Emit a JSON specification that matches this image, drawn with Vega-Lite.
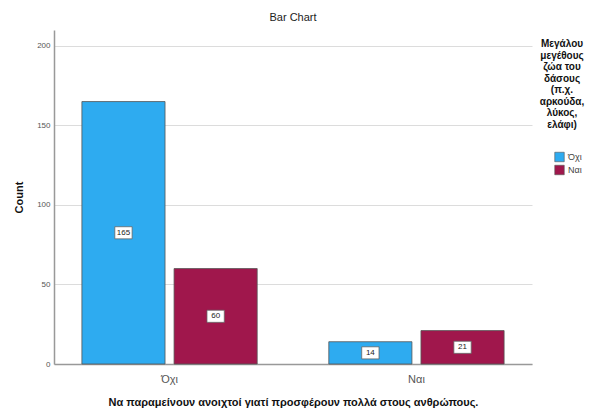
{
  "$schema": "https://vega.github.io/schema/vega-lite/v6.json",
  "width": 478,
  "height": 334,
  "autosize": {"type": "none"},
  "padding": {"left": 54, "top": 30, "right": 60, "bottom": 50},
  "background": "white",
  "title": {"text": "Bar Chart", "font": "Liberation Sans", "fontSize": 11, "fontWeight": "normal", "color": "#222", "offset": 7},
  "config": {
    "view": {"stroke": null},
    "font": "Liberation Sans"
  },
  "data": {
    "values": [
      {"keep": "Όχι", "animal": "Όχι", "count": 165},
      {"keep": "Όχι", "animal": "Ναι", "count": 60},
      {"keep": "Ναι", "animal": "Όχι", "count": 14},
      {"keep": "Ναι", "animal": "Ναι", "count": 21}
    ]
  },
  "encoding": {
    "x": {
      "field": "keep", "type": "nominal", "sort": ["Όχι", "Ναι"],
      "scale": {"paddingInner": 0.29, "paddingOuter": 0.113},
      "axis": {
        "title": "Να παραμείνουν ανοιχτοί γιατί προσφέρουν πολλά στους ανθρώπους.",
        "titleFont": "Liberation Sans", "titleFontSize": 11, "titleFontWeight": "bold", "titleColor": "#111",
        "titlePadding": 12,
        "labelAngle": 0, "labelFontSize": 11, "labelColor": "#555", "labelPadding": 9,
        "ticks": false, "domainColor": "#999", "domainWidth": 1.5
      }
    },
    "xOffset": {"field": "animal", "type": "nominal", "sort": ["Όχι", "Ναι"], "scale": {"paddingInner": 0.098, "paddingOuter": 0}}
  },
  "layer": [
    {
      "mark": {"type": "bar", "stroke": "#555", "strokeWidth": 0.8},
      "encoding": {
        "y": {
          "field": "count", "type": "quantitative",
          "scale": {"domain": [0, 210], "nice": false},
          "axis": {
            "title": "Count", "titleFont": "Liberation Sans", "titleFontSize": 11, "titleFontWeight": "bold", "titleColor": "#111",
            "titlePadding": 12,
            "values": [0, 50, 100, 150, 200],
            "labelFontSize": 8, "labelColor": "#555", "labelPadding": 4,
            "ticks": false, "domainColor": "#999", "domainWidth": 1.5,
            "grid": true, "gridColor": "#dcdcdc"
          }
        },
        "color": {
          "field": "animal", "type": "nominal", "sort": ["Όχι", "Ναι"],
          "scale": {"domain": ["Όχι", "Ναι"], "range": ["#2EABF0", "#A0174C"]},
          "legend": {
            "title": ["Μεγάλου", "μεγέθους", "ζώα του", "δάσους", "(π.χ.", "αρκούδα,", "λύκος,", "ελάφι)"],
            "orient": "none", "legendX": 486, "legendY": 9,
            "titleFont": "Liberation Sans", "titleFontSize": 10, "titleFontWeight": "bold", "titleColor": "#111",
            "titleAlign": "center", "titleAnchor": "middle", "titleLineHeight": 11.5, "titlePadding": 22,
            "symbolType": "square", "symbolSize": 90, "symbolStrokeColor": "#555", "symbolStrokeWidth": 0.6,
            "symbolOffset": 12,
            "labelFontSize": 9, "labelColor": "#444", "labelOffset": 3, "rowPadding": 0
          }
        }
      }
    },
    {
      "mark": {"type": "point", "shape": "M-1,-0.7L1,-0.7L1,0.7L-1,0.7Z", "filled": true, "fill": "white", "stroke": "#666", "strokeWidth": 0.8, "size": 300, "opacity": 1},
      "encoding": {
        "y": {"field": "count", "type": "quantitative", "scale": {"domain": [0, 420], "nice": false}, "axis": null}
      }
    },
    {
      "mark": {"type": "text", "fontSize": 8, "color": "#222", "baseline": "middle", "align": "center"},
      "encoding": {
        "y": {"field": "count", "type": "quantitative", "scale": {"domain": [0, 420], "nice": false}, "axis": null},
        "text": {"field": "count", "type": "quantitative"}
      }
    }
  ],
  "resolve": {"scale": {"y": "independent"}}
}
